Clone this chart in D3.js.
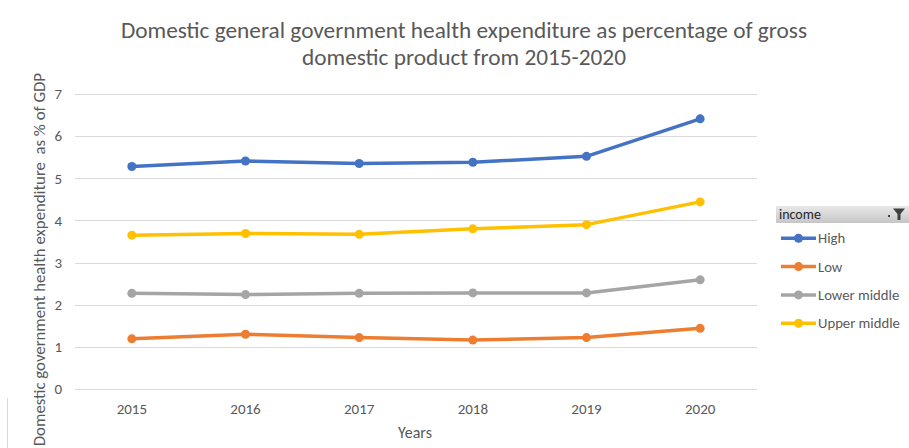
<!DOCTYPE html>
<html>
<head>
<meta charset="utf-8">
<script src="https://cdn.jsdelivr.net/npm/d3@7"></script>
<style>
  html, body { margin: 0; padding: 0; background: #fff; }
  svg { display: block; font-family: Carlito, Lato, "Open Sans", sans-serif; }
</style>
</head>
<body>
<svg id="chart" width="909" height="448"></svg>
<script>
// Domestic general government health expenditure (% of GDP) by income group
const years = ["2015", "2016", "2017", "2018", "2019", "2020"];
const seriesNames = ["High", "Low", "Lower middle", "Upper middle"];
const high        = [5.28, 5.41, 5.35, 5.38, 5.52, 6.41];
const low         = [1.19, 1.30, 1.22, 1.16, 1.22, 1.44];
const lowerMiddle = [2.27, 2.24, 2.27, 2.28, 2.28, 2.59];
const upperMiddle = [3.65, 3.69, 3.67, 3.80, 3.90, 4.44];
const yTicks = [0, 1, 2, 3, 4, 5, 6, 7];
const colors = ["#4472C4", "#ED7D31", "#A5A5A5", "#FFC000"];

const seriesValues = [high, low, lowerMiddle, upperMiddle];
const series = seriesNames.map((name, i) => ({
  name, color: colors[i],
  points: years.map((y, j) => ({ year: y, value: seriesValues[i][j] }))
}));

const svg = d3.select("#chart");
const plot = { left: 75, right: 757, top: 94, bottom: 389 };
const textColor = "#595959";
const fontStack = "Carlito, Lato, sans-serif";

const x = d3.scaleBand().domain(years).range([plot.left, plot.right]);
const y = d3.scaleLinear().domain([0, 7]).range([plot.bottom, plot.top]);

// Title
const title = svg.append("text")
  .attr("text-anchor", "middle")
  .style("fill", textColor)
  .style("font-size", "23.3px");
title.append("tspan").attr("x", 464).attr("y", 38)
  .text("Domestic general government health expenditure as percentage of gross");
title.append("tspan").attr("x", 464).attr("y", 65)
  .text("domestic product from 2015-2020");

// Horizontal gridlines
svg.append("g")
  .selectAll("line")
  .data(yTicks)
  .join("line")
  .attr("x1", plot.left).attr("x2", plot.right)
  .attr("y1", d => Math.round(y(d)) + 0.5).attr("y2", d => Math.round(y(d)) + 0.5)
  .attr("stroke", "#D9D9D9").attr("stroke-width", 1);

// Y axis labels
const yAxis = svg.append("g")
  .attr("transform", `translate(${plot.left - 13},0)`)
  .call(d3.axisLeft(y).tickValues(yTicks).tickFormat(d3.format("d")).tickSize(0).tickPadding(0));
yAxis.select(".domain").remove();
yAxis.selectAll("text")
  .style("fill", textColor).style("font-size", "15px").style("font-family", fontStack);

// X axis labels
const xAxis = svg.append("g")
  .attr("transform", `translate(0,${plot.bottom + 14})`)
  .call(d3.axisBottom(x).tickSize(0).tickPadding(0));
xAxis.select(".domain").remove();
xAxis.selectAll("text")
  .style("fill", textColor).style("font-size", "15px").style("font-family", fontStack);

// Axis titles
svg.append("text")
  .attr("x", 415).attr("y", 438)
  .attr("text-anchor", "middle")
  .style("fill", textColor).style("font-size", "16px")
  .text("Years");

svg.append("text")
  .attr("transform", "translate(45,73) rotate(-90)")
  .attr("text-anchor", "end")
  .style("fill", textColor).style("font-size", "16.8px")
  .style("white-space", "pre")
  .text("Domestic government health expenditure  as % of GDP");

// Faint frame edge at bottom-left
svg.append("line")
  .attr("x1", 7.5).attr("x2", 7.5).attr("y1", 398).attr("y2", 448)
  .attr("stroke", "#D9D9D9");

// Lines and markers
const line = d3.line()
  .x(d => x(d.year) + x.bandwidth() / 2)
  .y(d => y(d.value));

const g = svg.append("g").selectAll("g")
  .data(series)
  .join("g");

g.append("path")
  .attr("d", d => line(d.points))
  .attr("fill", "none")
  .attr("stroke", d => d.color)
  .attr("stroke-width", 3.5)
  .attr("stroke-linejoin", "round")
  .attr("stroke-linecap", "round");

g.selectAll("circle")
  .data(d => d.points.map(p => ({ ...p, color: d.color })))
  .join("circle")
  .attr("cx", d => x(d.year) + x.bandwidth() / 2)
  .attr("cy", d => y(d.value))
  .attr("r", 4.5)
  .attr("fill", d => d.color);

// Legend with field header
const legend = svg.append("g");
const grad = svg.append("defs").append("linearGradient")
  .attr("id", "hdr").attr("x1", 0).attr("y1", 0).attr("x2", 0).attr("y2", 1);
grad.append("stop").attr("offset", "0%").attr("stop-color", "#E8E8E8");
grad.append("stop").attr("offset", "100%").attr("stop-color", "#C6C6C6");

legend.append("rect")
  .attr("x", 776).attr("y", 206).attr("width", 133).attr("height", 17)
  .attr("fill", "url(#hdr)");
legend.append("text")
  .attr("x", 779).attr("y", 219)
  .style("fill", "#262626").style("font-size", "14px")
  .text("income");
// Filter glyph
legend.append("path")
  .attr("d", "M893,208.5 L905,208.5 L900.5,214 L900.5,220 L897.5,220 L897.5,214 Z")
  .attr("fill", "#404040");
legend.append("rect")
  .attr("x", 888).attr("y", 215).attr("width", 2).attr("height", 2)
  .attr("fill", "#404040");

const rows = legend.selectAll("g.item")
  .data(series)
  .join("g")
  .attr("class", "item")
  .attr("transform", (d, i) => `translate(0,${238.3 + i * 28.3})`);
rows.append("line")
  .attr("x1", 781).attr("x2", 816).attr("y1", 0).attr("y2", 0)
  .attr("stroke", d => d.color).attr("stroke-width", 3.5);
rows.append("circle")
  .attr("cx", 798.5).attr("cy", 0).attr("r", 4.5)
  .attr("fill", d => d.color);
rows.append("text")
  .attr("x", 818).attr("y", 5)
  .style("fill", textColor).style("font-size", "14.7px")
  .text(d => d.name);
</script>
</body>
</html>
